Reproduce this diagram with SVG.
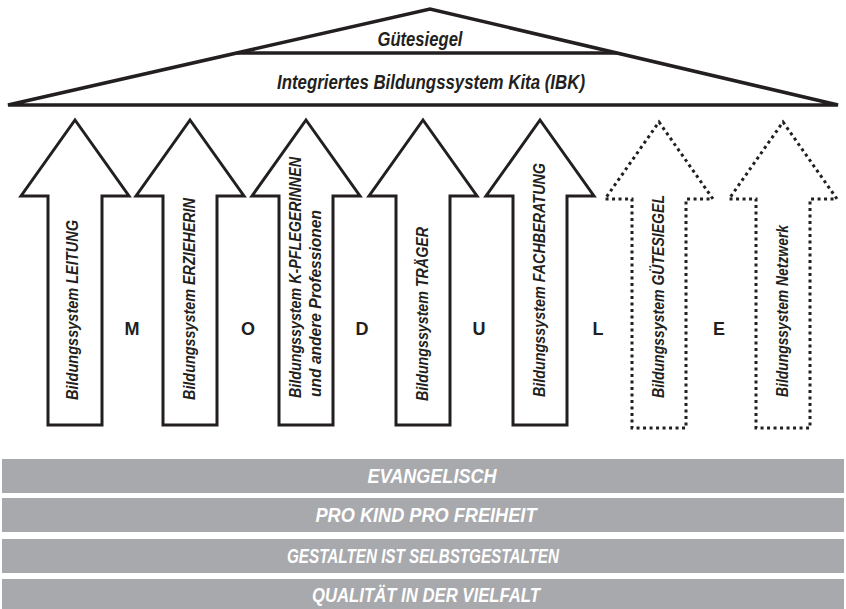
<svg xmlns="http://www.w3.org/2000/svg" width="846" height="609" viewBox="0 0 846 609">
<style>
.roof{fill:#fff;stroke:#231f20;stroke-width:3.5;stroke-linejoin:miter}
.rooftxt{font-family:"Liberation Sans",Arial,sans-serif;font-weight:bold;font-style:italic;font-size:20px;fill:#231f20;text-anchor:middle}
.arrow{fill:#fff;stroke:#231f20;stroke-width:3;stroke-linejoin:miter}
.dotted{stroke-dasharray:3 3.5;stroke-width:3}
.atxt{font-family:"Liberation Sans",Arial,sans-serif;font-weight:bold;font-style:italic;font-size:16px;fill:#231f20}
.letter{font-family:"Liberation Sans",Arial,sans-serif;font-weight:bold;font-size:18px;fill:#231f20;text-anchor:middle}
.bar{fill:#a8a9ad}
.btxt{font-family:"Liberation Sans",Arial,sans-serif;font-weight:bold;font-style:italic;font-size:20px;fill:#fff;text-anchor:middle}
</style>
<g id="roof">
<polygon class="roof" points="8,105 430,9 838,105"/>
<line x1="237" y1="53" x2="617" y2="53" stroke="#231f20" stroke-width="3.5"/>
<text class="rooftxt" x="420" y="46" textLength="85" lengthAdjust="spacingAndGlyphs">Gütesiegel</text>
<text class="rooftxt" x="431" y="89" textLength="308" lengthAdjust="spacingAndGlyphs">Integriertes Bildungssystem Kita (IBK)</text>
</g>
<g id="arrow-leitung">
<path class="arrow" d="M75,120 L129,196 L102,196 L102,425 L48,425 L48,196 L21,196 Z"/>
<text class="atxt" transform="translate(78,400) rotate(-90)" textLength="180" lengthAdjust="spacingAndGlyphs">Bildungssystem LEITUNG</text>
</g>
<g id="arrow-erzieherin">
<path class="arrow" d="M190,120 L244,196 L217,196 L217,425 L163,425 L163,196 L136,196 Z"/>
<text class="atxt" transform="translate(195,400) rotate(-90)" textLength="202" lengthAdjust="spacingAndGlyphs">Bildungssystem ERZIEHERIN</text>
</g>
<g id="arrow-kpflegerinnen">
<path class="arrow" d="M306,120 L360,196 L333,196 L333,425 L279,425 L279,196 L252,196 Z"/>
<text class="atxt" transform="translate(301,398) rotate(-90)" textLength="241" lengthAdjust="spacingAndGlyphs">Bildungssystem K-PFLEGERINNEN</text>
<text class="atxt" transform="translate(321,397) rotate(-90)" textLength="187" lengthAdjust="spacingAndGlyphs">und andere Professionen</text>
</g>
<g id="arrow-traeger">
<path class="arrow" d="M423,120 L477,196 L450,196 L450,425 L396,425 L396,196 L369,196 Z"/>
<text class="atxt" transform="translate(428,401) rotate(-90)" textLength="174" lengthAdjust="spacingAndGlyphs">Bildungssystem TRÄGER</text>
</g>
<g id="arrow-fachberatung">
<path class="arrow" d="M540,120 L594,196 L567,196 L567,425 L513,425 L513,196 L486,196 Z"/>
<text class="atxt" transform="translate(545,397) rotate(-90)" textLength="234" lengthAdjust="spacingAndGlyphs">Bildungssystem FACHBERATUNG</text>
</g>
<g id="arrow-guetesiegel">
<path class="arrow dotted" d="M659,122 L713,199 L686,199 L686,428 L632,428 L632,199 L605,199 Z"/>
<text class="atxt" transform="translate(664,398) rotate(-90)" textLength="203" lengthAdjust="spacingAndGlyphs">Bildungssystem GÜTESIEGEL</text>
</g>
<g id="arrow-netzwerk">
<path class="arrow dotted" d="M783,122 L837,199 L810,199 L810,428 L756,428 L756,199 L729,199 Z"/>
<text class="atxt" transform="translate(788,397) rotate(-90)" textLength="172" lengthAdjust="spacingAndGlyphs">Bildungssystem Netzwerk</text>
</g>
<g id="module-letters">
<text class="letter" x="132" y="335">M</text>
<text class="letter" x="248" y="335">O</text>
<text class="letter" x="362" y="335">D</text>
<text class="letter" x="479" y="335">U</text>
<text class="letter" x="598" y="335">L</text>
<text class="letter" x="719" y="335">E</text>
</g>
<g id="bar-evangelisch">
<rect class="bar" x="2" y="459" width="842" height="34"/>
<text class="btxt" x="432" y="483" textLength="129" lengthAdjust="spacingAndGlyphs">EVANGELISCH</text>
</g>
<g id="bar-prokind">
<rect class="bar" x="2" y="498" width="842" height="34"/>
<text class="btxt" x="426" y="522" textLength="221" lengthAdjust="spacingAndGlyphs">PRO KIND PRO FREIHEIT</text>
</g>
<g id="bar-gestalten">
<rect class="bar" x="2" y="539" width="842" height="34"/>
<text class="btxt" x="423" y="563" textLength="272" lengthAdjust="spacingAndGlyphs">GESTALTEN IST SELBSTGESTALTEN</text>
</g>
<g id="bar-qualitaet">
<rect class="bar" x="2" y="579" width="842" height="30"/>
<text class="btxt" x="426" y="602" textLength="228" lengthAdjust="spacingAndGlyphs">QUALITÄT IN DER VIELFALT</text>
</g>
</svg>
